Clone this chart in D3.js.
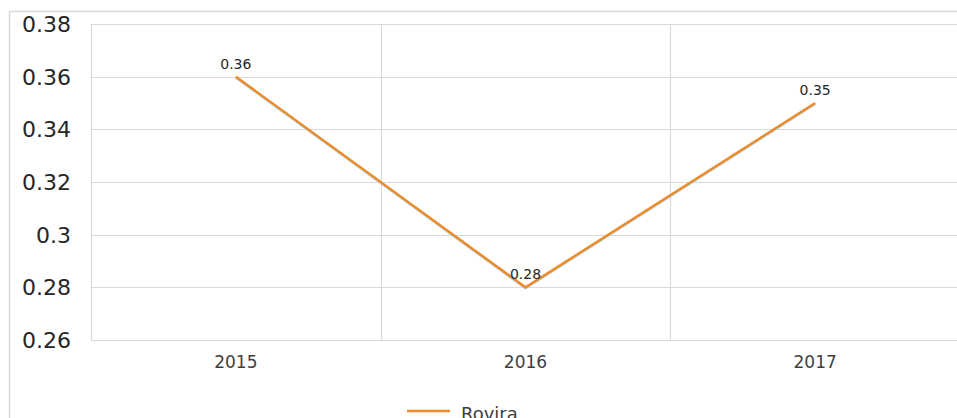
<!DOCTYPE html>
<html>
<head>
<meta charset="utf-8">
<script src="https://cdn.jsdelivr.net/npm/d3@7"></script>
<style>
  html, body { margin: 0; padding: 0; background: #fff; overflow: hidden; }
  text { font-family: "DejaVu Sans", "Open Sans", sans-serif; fill: #404040; }
</style>
</head>
<body>
<div id="chart"></div>
<script>
const years = ["2015", "2016", "2017"];
const values = [0.36, 0.28, 0.35];
const yTicks = [0.26, 0.28, 0.3, 0.32, 0.34, 0.36, 0.38];
const seriesName = "Rovira";

const width = 957, height = 418;
const plotLeft = 91, plotTop = 24, plotRight = 960, plotBottom = 340;
const lineColor = "#f18a22";

const svg = d3.select("#chart")
    .append("svg")
    .attr("width", width)
    .attr("height", height);

// outer frame (only top and left visible)
svg.append("path")
    .attr("d", `M9.5,${height} V11.5 H${width}`)
    .attr("fill", "none")
    .attr("stroke", "#d9d9d9")
    .attr("stroke-width", 1.5);

const x = d3.scaleBand().domain(years).range([plotLeft, plotRight]);
const y = d3.scaleLinear().domain([0.26, 0.38]).range([plotBottom, plotTop]);

// horizontal gridlines
svg.append("g")
    .selectAll("line")
    .data(yTicks)
    .join("line")
    .attr("x1", plotLeft)
    .attr("x2", plotRight)
    .attr("y1", d => Math.round(y(d)) + 0.5)
    .attr("y2", d => Math.round(y(d)) + 0.5)
    .attr("stroke", "#d9d9d9")
    .attr("stroke-width", 1.2);

// vertical category boundaries
svg.append("g")
    .selectAll("line")
    .data(years)
    .join("line")
    .attr("x1", d => Math.round(x(d)) + 0.5)
    .attr("x2", d => Math.round(x(d)) + 0.5)
    .attr("y1", plotTop)
    .attr("y2", plotBottom)
    .attr("stroke", "#d9d9d9")
    .attr("stroke-width", 1.2);

// y tick labels
svg.append("g")
    .selectAll("text")
    .data(yTicks)
    .join("text")
    .attr("x", 71)
    .attr("y", d => y(d) + 8)
    .attr("text-anchor", "end")
    .style("font-size", "22px")
    .style("fill", "#262626")
    .text(d => String(+d.toFixed(2)));

// x tick labels
svg.append("g")
    .selectAll("text")
    .data(years)
    .join("text")
    .attr("x", d => x(d) + x.bandwidth() / 2)
    .attr("y", 368)
    .attr("text-anchor", "middle")
    .style("font-size", "17px")
    .text(d => d);

const pts = years.map((yr, i) => ({ yr, v: values[i] }));

const line = d3.line()
    .x(d => x(d.yr) + x.bandwidth() / 2)
    .y(d => y(d.v));

// faint blue edge under the line
svg.append("path")
    .datum(pts)
    .attr("d", line)
    .attr("transform", "translate(0,0.8)")
    .attr("fill", "none")
    .attr("stroke", "#a9cfe3")
    .attr("stroke-width", 2.6);

svg.append("path")
    .datum(pts)
    .attr("d", line)
    .attr("fill", "none")
    .attr("stroke", lineColor)
    .attr("stroke-width", 2.4);

// data labels
svg.append("g")
    .selectAll("text")
    .data(pts)
    .join("text")
    .attr("x", d => x(d.yr) + x.bandwidth() / 2)
    .attr("y", d => y(d.v) - 8)
    .attr("text-anchor", "middle")
    .style("font-size", "14px")
    .style("fill", "#262626")
    .text(d => d.v);

// legend
const lg = svg.append("g");
lg.append("line")
    .attr("x1", 407).attr("x2", 450)
    .attr("y1", 411).attr("y2", 411)
    .attr("stroke", lineColor)
    .attr("stroke-width", 2.4);
lg.append("text")
    .attr("x", 461)
    .attr("y", 420)
    .style("font-size", "18px")
    .text(seriesName);
</script>
</body>
</html>
